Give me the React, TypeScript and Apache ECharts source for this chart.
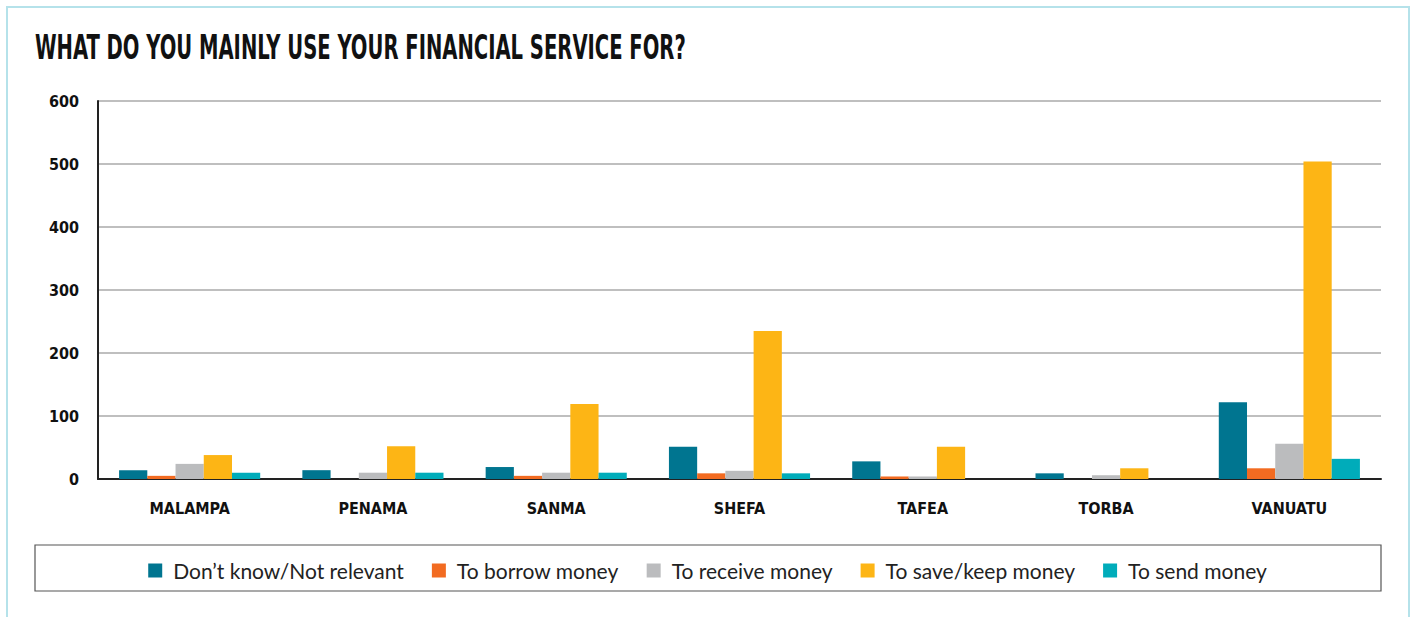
import React, { useEffect, useRef } from "react";
import * as echarts from "echarts";

const categories = ["MALAMPA", "PENAMA", "SANMA", "SHEFA", "TAFEA", "TORBA", "VANUATU"];
const seriesNames = ["Don’t know/Not relevant", "To borrow money", "To receive money", "To save/keep money", "To send money"];
const dontKnow = [14, 14, 19, 51, 28, 9, 122];
const borrow = [5, 0, 5, 9, 4, 0, 17];
const receive = [24, 10, 10, 13, 4, 6, 56];
const save = [38, 52, 119, 235, 51, 17, 504];
const send = [10, 10, 10, 9, 0, 0, 32];
const colors = ["#007590", "#F26B21", "#BBBCBE", "#FDB515", "#00ACBA"];

const condensed = "'DejaVu Sans Condensed', 'Roboto Condensed', 'Liberation Sans Narrow', 'Liberation Sans', sans-serif";

export default function App() {
  const ref = useRef<HTMLDivElement>(null);
  useEffect(() => {
    const chart = echarts.init(ref.current!, null, { renderer: "svg" });
    const data = [dontKnow, borrow, receive, save, send];
    chart.setOption({
      animation: false,
      color: colors,
      graphic: [
        { type: "rect", shape: { x: 7, y: 7, width: 1402, height: 700 }, style: { fill: "none", stroke: "#B5E2EA", lineWidth: 2 }, silent: true },
        { type: "rect", shape: { x: 35, y: 545, width: 1346, height: 46 }, style: { fill: "#fff", stroke: "#555", lineWidth: 1.2 }, z: -1, silent: true },
        {
          type: "text", x: 35, y: 31, scaleX: 0.64,
          style: { text: "WHAT DO YOU MAINLY USE YOUR FINANCIAL SERVICE FOR?", fontFamily: condensed, fontWeight: "bold", fontSize: 34, fill: "#111" },
        },
      ],
      legend: {
        data: seriesNames,
        left: "center",
        top: 555,
        itemWidth: 14,
        itemHeight: 14,
        itemGap: 28,
        icon: "rect",
        textStyle: { fontFamily: "Lato", fontSize: 21, color: "#222", padding: [0, 0, 0, 6] },
      },
      grid: { left: 98, right: 34, top: 101, bottom: 138 },
      xAxis: {
        type: "category",
        data: categories,
        axisLine: { lineStyle: { color: "#222", width: 2 } },
        axisTick: { show: false },
        axisLabel: { fontFamily: condensed, fontWeight: "bold", fontSize: 16, color: "#111", margin: 21 },
      },
      yAxis: {
        type: "value",
        min: 0,
        max: 600,
        interval: 100,
        axisLine: { show: true, lineStyle: { color: "#222", width: 2 } },
        axisTick: { show: false },
        axisLabel: { fontFamily: condensed, fontWeight: "bold", fontSize: 16, color: "#111", margin: 19 },
        splitLine: { lineStyle: { color: "#aaa", width: 1.5 } },
      },
      series: seriesNames.map((name, i) => ({
        name,
        type: "bar",
        data: data[i],
        barGap: "0%",
        barCategoryGap: "23%",
      })),
    });
    return () => chart.dispose();
  }, []);
  return <div ref={ref} style={{ position: "absolute", left: 0, top: 0, width: 1415, height: 617 }} />;
}
